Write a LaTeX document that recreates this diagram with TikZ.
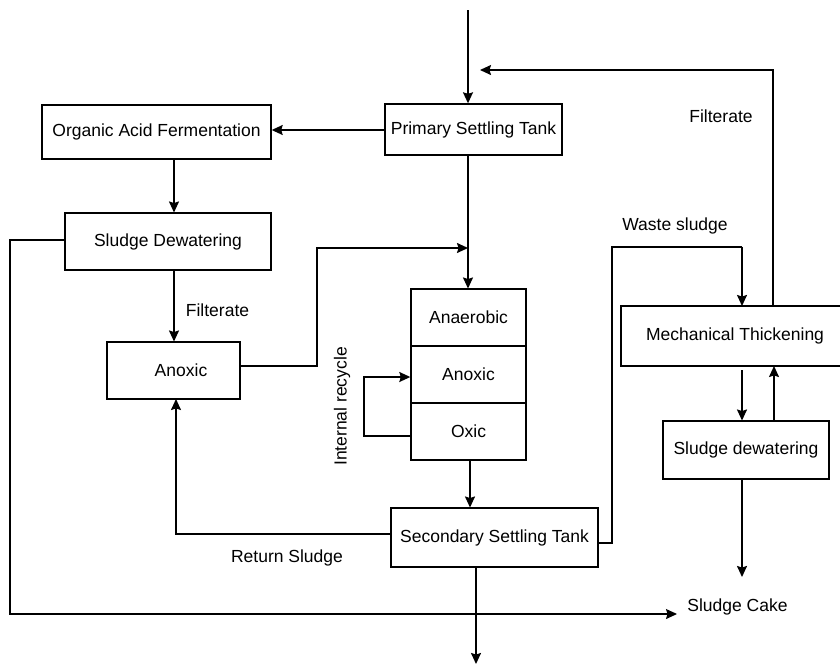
\documentclass[tikz,border=0pt]{standalone}
\usepackage{fontspec}
\setmainfont{Liberation Sans}
\usetikzlibrary{arrows.meta}
\begin{document}
\begin{tikzpicture}[x=1pt,y=-1pt,
  box/.style={draw, line width=1.4pt, inner sep=0pt, font=\fontsize{17.5}{20}\selectfont},
  lbl/.style={inner sep=0pt, font=\fontsize{17.5}{20}\selectfont},
  arr/.style={line width=1.5pt, -{Stealth[length=11pt,width=10pt,inset=1.5pt]}},
  ln/.style={line width=1.1pt},
  lnarr/.style={line width=1.1pt, -{Stealth[length=11pt,width=10pt,inset=1.5pt]}}]
\useasboundingbox (0,0) rectangle (840,670);
\clip (0,0) rectangle (840,670);
% boxes
\node[box, minimum width=177pt, minimum height=51pt] (pst) at (473.5,129.5) {Primary Settling Tank};
\node[box, minimum width=229pt, minimum height=54pt] (oaf) at (156.5,132) {Organic Acid Fermentation};
\node[box, minimum width=206pt, minimum height=57pt] (sdw) at (168,241.5) {Sludge Dewatering};
\node[box, minimum width=133pt, minimum height=57pt] (anx) at (173.5,370.5) {};
\node[lbl] (anxt) at (181,370.5) {Anoxic};
\node[box, minimum width=115pt, minimum height=57pt] (ana) at (468.5,317.5) {Anaerobic};
\node[box, minimum width=115pt, minimum height=57pt] (anx2) at (468.5,374.5) {Anoxic};
\node[box, minimum width=115pt, minimum height=57pt] (oxic) at (468.5,431.5) {Oxic};
\node[box, minimum width=207pt, minimum height=59pt] (sst) at (494.5,537.5) {Secondary Settling Tank};
\node[box, minimum width=228pt, minimum height=60pt] (mt) at (735,336) {Mechanical Thickening};
\node[box, minimum width=166pt, minimum height=58pt] (sdw2) at (746,450) {Sludge dewatering};
% labels
\node[lbl] (l1) at (217.5,310) {Filterate};
\node[lbl] (l2) at (721,116) {Filterate};
\node[lbl] (l3) at (675,226) {Waste sludge};
\node[lbl] (l4) at (287,558) {Return Sludge};
\node[lbl] (l5) at (737.5,607) {Sludge Cake};
\node[lbl, rotate=90] (l6) at (342,406.5) {Internal recycle};
% coordinates
\coordinate (in) at (468,10);
\coordinate (fin) at (480,70);
\coordinate (mix) at (468,248);
\coordinate (out) at (476,664);
\coordinate (cake) at (677,614);
\coordinate (cakeend) at (742,577);
% connectors
\draw[arr] (in) -- (in |- pst.north);
\draw[arr] (pst.west |- 0,130) -- (oaf.east |- 0,130);
\draw[arr] (174,159) -- (174,212.5);
\draw[arr] (174,270) -- (174,341.5);
\draw[arr] (468,155) -- (468,288.5);
\draw[arr] (anx.east |- 0,366) -- (317,366) -- (317,248) -- (mix);
\draw[arr] (oxic.west |- 0,436) -- (364,436) -- (364,377) -- (anx2.west |- 0,377);
\draw[arr] (470,460) -- (470,507.5);
\draw[arr] (sst.west |- 0,534) -- (176,534) -- (176,399);
\draw[arr] (476,567) -- (out);
\draw[lnarr] (sdw.west |- 0,240) -- (10,240) -- (10,614) -- (cake);
\draw[ln] (sst.east |- 0,543) -- (612,543) -- (612,247) -- (742,247);
\draw[arr] (742,246.5) -- (742,306);
\draw[arr] (773,306) -- (773,70) -- (fin);
\draw[arr] (742,370) -- (742,420.5);
\draw[arr] (774,421) -- (774,366);
\draw[arr] (742,479) -- (cakeend);
\end{tikzpicture}
\end{document}
